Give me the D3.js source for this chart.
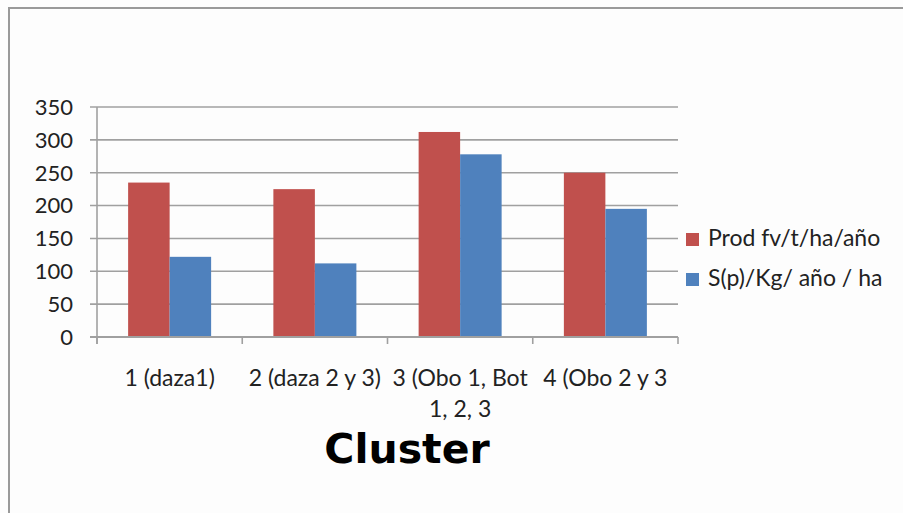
<!DOCTYPE html>
<html>
<head>
<meta charset="utf-8">
<script src="https://cdn.jsdelivr.net/npm/d3@7"></script>
<style>
  html, body { margin: 0; padding: 0; background: #fdfdfd; }
  svg { display: block; }
</style>
</head>
<body>
<svg id="chart" width="903" height="513"></svg>
<script>
// Cluster categories (second line of a label follows "\n")
const categories = ["1 (daza1)", "2 (daza 2 y 3)", "3 (Obo 1, Bot\n1, 2, 3", "4 (Obo 2 y 3"];
const seriesNames = ["Prod fv/t/ha/año", "S(p)/Kg/ año / ha"];
const prodValues = [235, 225, 312, 250];
const sValues = [122, 112, 278, 195];
const yTicks = [0, 50, 100, 150, 200, 250, 300, 350];
const seriesColors = ["#C0504D", "#4F81BD"];

const svg = d3.select("#chart");
const font = "Lato, 'Open Sans', sans-serif";

// Outer frame (left and top edges)
svg.append("path")
  .attr("d", "M9,513 V8 H903")
  .attr("fill", "none")
  .attr("stroke", "#9a9a9a")
  .attr("stroke-width", 2);

const plot = { left: 97, right: 678, top: 107, bottom: 337 };

const y = d3.scaleLinear().domain([0, 350]).range([plot.bottom, plot.top]);
const x = d3.scaleBand().domain(categories).range([plot.left, plot.right]).padding(0);

// Group width with a 150% gap between clusters
const groupW = x.bandwidth() * 2 / 3.5;
const xs = d3.scaleBand().domain([0, 1]).range([0, groupW]).padding(0);

// Horizontal gridlines
svg.append("g")
  .selectAll("line")
  .data(yTicks)
  .join("line")
  .attr("x1", plot.left - 7)
  .attr("x2", plot.right)
  .attr("y1", d => y(d))
  .attr("y2", d => y(d))
  .attr("stroke", "#a0a0a0")
  .attr("stroke-width", 1.6);

// Y tick labels
svg.append("g")
  .selectAll("text")
  .data(yTicks)
  .join("text")
  .attr("x", 73)
  .attr("y", d => y(d))
  .attr("dy", "0.36em")
  .attr("text-anchor", "end")
  .attr("font-family", font)
  .attr("font-size", 22)
  .attr("fill", "#222")
  .text(d => d);

// Bars
const rows = categories.map((c, i) => ({ cat: c, vals: [prodValues[i], sValues[i]] }));
const groups = svg.append("g")
  .selectAll("g")
  .data(rows)
  .join("g")
  .attr("transform", d => `translate(${x(d.cat) + (x.bandwidth() - groupW) / 2},0)`);

groups.selectAll("rect")
  .data(d => d.vals.map((v, k) => ({ v, k })))
  .join("rect")
  .attr("x", d => xs(d.k))
  .attr("width", xs.bandwidth())
  .attr("y", d => y(d.v))
  .attr("height", d => y(0) - y(d.v))
  .attr("fill", d => seriesColors[d.k]);

// Y axis line and X axis line with ticks
svg.append("line")
  .attr("x1", plot.left).attr("x2", plot.left)
  .attr("y1", plot.top).attr("y2", plot.bottom + 7)
  .attr("stroke", "#a0a0a0").attr("stroke-width", 1.6);
svg.append("line")
  .attr("x1", plot.left - 7).attr("x2", plot.right)
  .attr("y1", plot.bottom).attr("y2", plot.bottom)
  .attr("stroke", "#a0a0a0").attr("stroke-width", 1.8);
const xTickPos = categories.map(c => x(c)).concat([plot.right]);
svg.append("g")
  .selectAll("line")
  .data(xTickPos)
  .join("line")
  .attr("x1", d => d).attr("x2", d => d)
  .attr("y1", plot.bottom).attr("y2", plot.bottom + 7)
  .attr("stroke", "#a0a0a0").attr("stroke-width", 1.6);

// Category labels
const catLabels = svg.append("g")
  .selectAll("text")
  .data(categories)
  .join("text")
  .attr("x", d => x(d) + x.bandwidth() / 2)
  .attr("y", 386)
  .attr("text-anchor", "middle")
  .attr("font-family", font)
  .attr("font-size", 23)
  .attr("fill", "#222");
catLabels.selectAll("tspan")
  .data(d => d.split("\n"))
  .join("tspan")
  .attr("x", function () { return d3.select(this.parentNode).attr("x"); })
  .attr("dy", (d, i) => i === 0 ? 0 : 31)
  .text(d => d);

// Axis title
svg.append("text")
  .attr("x", 407)
  .attr("y", 463)
  .attr("text-anchor", "middle")
  .attr("font-family", "'DejaVu Sans', sans-serif")
  .attr("font-weight", "bold")
  .attr("font-size", 41)
  .attr("fill", "#000")
  .text("Cluster");

// Legend
const legend = svg.append("g")
  .selectAll("g")
  .data(seriesNames)
  .join("g")
  .attr("transform", (d, i) => `translate(686,${233 + i * 40})`);
legend.append("rect")
  .attr("width", 13).attr("height", 13)
  .attr("fill", (d, i) => seriesColors[i]);
legend.append("text")
  .attr("x", 22)
  .attr("y", 13)
  .attr("font-family", font)
  .attr("font-size", 23)
  .attr("fill", "#222")
  .text(d => d);
</script>
</body>
</html>
